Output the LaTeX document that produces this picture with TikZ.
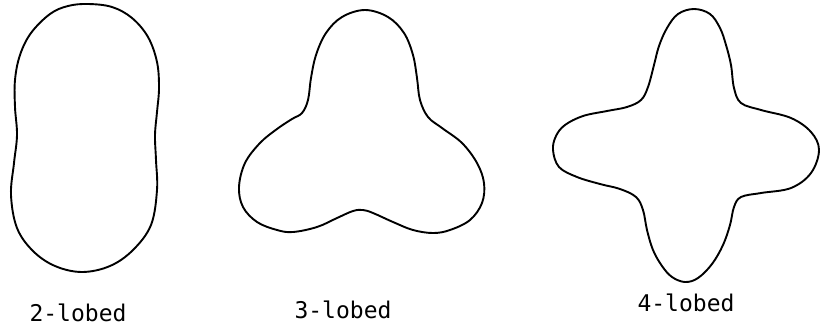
\documentclass[tikz,border=0pt]{standalone}
\usepackage{fontspec}
\setmonofont{DejaVu Sans Mono}
\begin{document}
\begin{tikzpicture}[x=1pt,y=-1pt,
  lobe/.style={line width=1.9pt, line join=round},
  lbl/.style={font=\ttfamily\fontsize{23}{26}\selectfont, anchor=base, inner sep=0pt}]
\useasboundingbox (0,0) rectangle (821,330);
% 2-lobed
\draw[lobe] plot[smooth cycle, tension=0.6] coordinates {
 (88,4) (112,7) (132,18) (148,37) (157,62) (159,88) (157,112) (155,135)
 (156,160) (157,190) (151,225) (133,250) (110,266) (82,272) (55,266)
 (33,251) (17,228) (11,195) (14,163) (17,135) (15,107) (15,80) (20,55)
 (31,33) (50,14) (68,6)};
% 3-lobed
\draw[lobe] plot[smooth cycle, tension=0.6] coordinates {
 (365,10) (388,17) (404,33) (413,55) (417,78) (420,100) (428,117) (442,128)
 (462,143) (477,163) (484,183) (482,203) (470,220) (450,230) (433,233)
 (413,230) (393,222) (373,213) (363,210) (353,211) (337,218) (317,227)
 (293,232) (277,230) (257,222) (243,207) (239,187) (245,163) (260,143)
 (277,129) (292,119) (302,113) (308,100) (311,78) (316,55) (326,33) (342,17)};
% 4-lobed
\draw[lobe] plot[smooth cycle, tension=0.6] coordinates {
 (694,9) (710,14) (720,28) (726,45) (731,65) (734,88) (741,103) (761,110)
 (791,118) (811,132) (819,150) (811,173) (791,188) (761,193) (741,197)
 (734,207) (730,225) (723,245) (712,264) (698,278) (685,282) (672,277)
 (662,266) (653,250) (647,230) (643,210) (636,197) (620,189) (600,184)
 (577,177) (559,167) (553,150) (556,136) (565,125) (583,116) (607,111)
 (627,107) (641,100) (648,87) (654,65) (659,46) (667,28) (678,14)};
\node[lbl] (l2) at (78,321) {2-lobed};
\node[lbl] (l3) at (343,318) {3-lobed};
\node[lbl] (l4) at (686,311) {4-lobed};
\end{tikzpicture}
\end{document}
